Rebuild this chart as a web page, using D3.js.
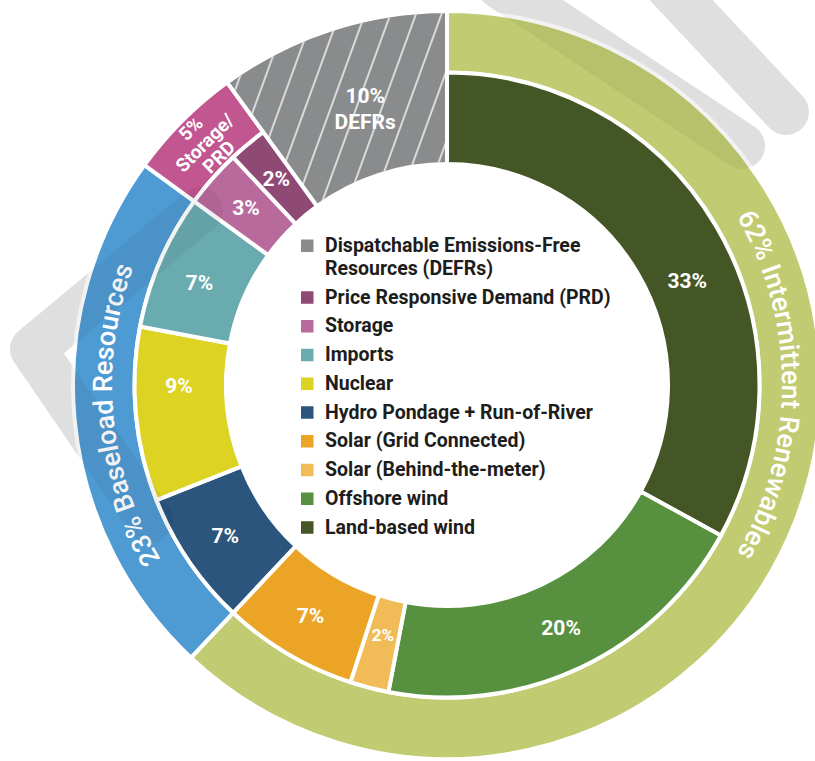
<!DOCTYPE html>
<html>
<head>
<meta charset="utf-8">
<script src="https://cdn.jsdelivr.net/npm/d3@7"></script>
<style>
  html, body { margin: 0; padding: 0; background: #ffffff; }
  svg { display: block; }
</style>
</head>
<body>
<svg id="chart" width="815" height="761"></svg>
<script>
// Resource mix, clockwise from 12 o'clock (percent of total)
const categories = [
  "Land-based wind",
  "Offshore wind",
  "Solar (Behind-the-meter)",
  "Solar (Grid Connected)",
  "Hydro Pondage + Run-of-River",
  "Nuclear",
  "Imports",
  "Storage",
  "Price Responsive Demand (PRD)",
  "Dispatchable Emissions-Free Resources (DEFRs)"
];
const shares = [33, 20, 2, 7, 7, 9, 7, 3, 2, 10];
// index into groupNames for each category
const categoryGroup = [0, 0, 0, 0, 1, 1, 1, 2, 2, 3];

const groupNames = ["Intermittent Renewables", "Baseload Resources", "Storage/PRD", "DEFRs"];
const groupShares = [62, 23, 5, 10];

// ---------------------------------------------------------------------------
const W = 815, H = 761;
const cx = 447, cy = 385;
const rHole = 221, rMid = 312.5, rOut = 374;
const deg = Math.PI / 180;

const catColor = d3.scaleOrdinal()
  .domain(categories)
  .range(["#455626", "#57913f", "#f1bb57", "#eba425", "#2b557d",
          "#dcd322", "#6aabb0", "#b86a9c", "#8e4a74", "#8a8b8d"]);
const groupColor = d3.scaleOrdinal()
  .domain(groupNames)
  .range(["#c1cc72", "#4e9ad3", "#c15690", "#8a8b8d"]);

const svg = d3.select("#chart");
const defs = svg.append("defs");

// diagonal white hatching for the DEFR wedge
const hatch = defs.append("pattern")
  .attr("id", "hatch")
  .attr("patternUnits", "userSpaceOnUse")
  .attr("width", 24).attr("height", 24)
  .attr("patternTransform", "rotate(20)");
hatch.append("line")
  .attr("x1", 12).attr("y1", 0).attr("x2", 12).attr("y2", 24)
  .attr("stroke", "#ffffff").attr("stroke-width", 1.6).attr("stroke-opacity", 0.85);

// soft background watermark strokes
const watermark = [
  "M200,210 L33,349 L150,520",
  "M500,-14 L742,146",
  "M668,-14 L786,112"
];
const wmBack = svg.append("g")
  .attr("fill", "none").attr("stroke", "#ebebeb")
  .attr("stroke-width", 46).attr("stroke-linecap", "round").attr("stroke-linejoin", "round");
watermark.forEach(d => wmBack.append("path").attr("d", d));

const g = svg.append("g").attr("transform", `translate(${cx},${cy})`);

const pie = d3.pie().sort(null).value(d => d.value).startAngle(0).endAngle(2 * Math.PI);
const catArcs = pie(categories.map((name, i) => ({ name, value: shares[i], group: categoryGroup[i] })));
const grpArcs = pie(groupNames.map((name, i) => ({ name, value: groupShares[i], index: i })));

const DEFR_GROUP = 3;

const innerArc = d3.arc()
  .innerRadius(rHole)
  .outerRadius(d => d.data.group === DEFR_GROUP ? rOut : rMid);
const outerArc = d3.arc().innerRadius(rMid).outerRadius(rOut);

// outer ring: resource groups (DEFRs span both rings and are drawn below)
g.append("g").selectAll("path")
  .data(grpArcs.filter(d => d.data.index !== DEFR_GROUP))
  .join("path")
  .attr("d", outerArc)
  .attr("fill", d => groupColor(d.data.name))
  .attr("stroke", "#ffffff").attr("stroke-width", 4);

// inner ring: individual resources
g.append("g").selectAll("path")
  .data(catArcs)
  .join("path")
  .attr("d", innerArc)
  .attr("fill", d => catColor(d.data.name))
  .attr("stroke", "#ffffff").attr("stroke-width", 4);

// hatching over the DEFR wedge
g.append("path")
  .datum(catArcs.find(d => d.data.group === DEFR_GROUP))
  .attr("d", d3.arc().innerRadius(rHole + 2).outerRadius(rOut - 2)
    .startAngle(d => d.startAngle + 0.006).endAngle(d => d.endAngle - 0.006))
  .attr("fill", "url(#hatch)");

const polar = (r, a) => [r * Math.sin(a * deg), -r * Math.cos(a * deg)];
const midDeg = d => (d.startAngle + d.endAngle) / 2 / deg;

// value labels on the inner ring
const labelAngle = { "Land-based wind": 66.5, "Nuclear": 270, "Imports": 292.5 };
const labelRadius = { "Land-based wind": 262, "Solar (Behind-the-meter)": 258 };
const labelSize = { "Solar (Behind-the-meter)": 17 };

g.append("g").selectAll("text")
  .data(catArcs.filter(d => d.data.group !== DEFR_GROUP))
  .join("text")
  .attr("transform", d => {
    const a = labelAngle[d.data.name] ?? midDeg(d);
    const r = labelRadius[d.data.name] ?? 268;
    const [x, y] = polar(r, a);
    return `translate(${x},${y})`;
  })
  .attr("text-anchor", "middle")
  .attr("dy", "0.36em")
  .attr("font-family", "Roboto, 'Open Sans', sans-serif")
  .attr("font-weight", 700)
  .attr("font-size", d => labelSize[d.data.name] ?? 21)
  .attr("fill", "#ffffff")
  .text(d => `${d.data.value}%`);

// DEFR label (spans both rings)
{
  const d = grpArcs[DEFR_GROUP];
  const [x, y] = polar(288, midDeg(d) + 1.5);
  const t = g.append("text")
    .attr("text-anchor", "middle")
    .attr("font-family", "Roboto, 'Open Sans', sans-serif")
    .attr("font-weight", 700).attr("font-size", 21)
    .attr("fill", "#ffffff");
  t.append("tspan").attr("x", x).attr("y", y - 6).text(`${d.data.value}%`);
  t.append("tspan").attr("x", x).attr("y", y + 20).text(d.data.name);
}

// Storage/PRD label, set along the ring
{
  const d = grpArcs[2];
  const a = midDeg(d);
  const [x, y] = polar(343, a);
  const parts = d.data.name.split("/");
  const lines = [`${d.data.value}%`, parts[0] + "/", parts[1]];
  const t = g.append("text")
    .attr("transform", `translate(${x},${y}) rotate(${a})`)
    .attr("text-anchor", "middle")
    .attr("font-family", "Roboto, 'Open Sans', sans-serif")
    .attr("font-weight", 700).attr("font-size", 19)
    .attr("fill", "#ffffff");
  lines.forEach((s, i) => {
    t.append("tspan").attr("x", 0).attr("y", (i - 1) * 20 + 7).text(s);
  });
}

// curved group labels on the outer ring
const curvedCenter = { "Intermittent Renewables": 90 };
const rText = 335;
[0, 1].forEach(i => {
  const d = grpArcs[i];
  const c = curvedCenter[d.data.name] ?? midDeg(d);
  const [x0, y0] = polar(rText, c - 85);
  const [x1, y1] = polar(rText, c + 85);
  const id = `grp-path-${i}`;
  defs.append("path").attr("id", id)
    .attr("d", `M${x0},${y0} A${rText},${rText} 0 0 1 ${x1},${y1}`)
    .attr("transform", `translate(${cx},${cy})`);
  svg.append("text")
    .attr("font-family", "Roboto, 'Open Sans', sans-serif")
    .attr("font-weight", 500).attr("font-size", 27)
    .attr("fill", "#ffffff")
    .append("textPath")
    .attr("href", `#${id}`)
    .attr("startOffset", "50%")
    .attr("text-anchor", "middle")
    .text(`${d.data.value}% ${d.data.name}`);
});

// legend inside the hole
const legend = svg.append("g").attr("transform", "translate(301,0)");
const legendItems = categories.slice().reverse();
const textX = 24, maxWidth = 300;
let baseline = 252;
legendItems.forEach(name => {
  const row = legend.append("g");
  row.append("rect")
    .attr("x", 0).attr("y", baseline - 12.5)
    .attr("width", 12.5).attr("height", 12.5)
    .attr("fill", catColor(name));
  const t = row.append("text")
    .attr("transform", `translate(${textX},0) scale(0.93,1)`)
    .attr("font-family", "Roboto, 'Open Sans', sans-serif")
    .attr("font-weight", 700).attr("font-size", 21)
    .attr("fill", "#1d1d1b");
  // simple word wrap
  const words = name.split(" ");
  let line = [], y = baseline;
  let ts = t.append("tspan").attr("x", 0).attr("y", y);
  words.forEach(w => {
    line.push(w);
    ts.text(line.join(" "));
    if (ts.node().getComputedTextLength() * 0.93 > maxWidth && line.length > 1) {
      line.pop();
      ts.text(line.join(" "));
      line = [w];
      y += 23;
      ts = t.append("tspan").attr("x", 0).attr("y", y).text(w);
    }
  });
  baseline = y + 28.75;
});

// faint overlay of the watermark strokes across everything
const wmFront = svg.append("g")
  .attr("fill", "none").attr("stroke", "#000000").attr("stroke-opacity", 0.05)
  .attr("stroke-width", 46).attr("stroke-linecap", "round").attr("stroke-linejoin", "round");
watermark.forEach(d => wmFront.append("path").attr("d", d));
</script>
</body>
</html>
